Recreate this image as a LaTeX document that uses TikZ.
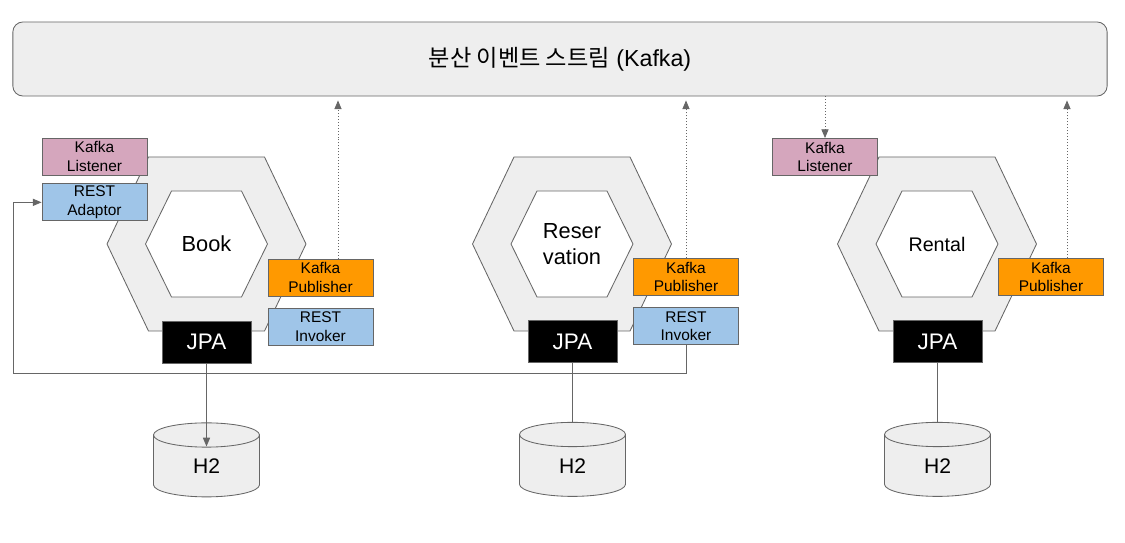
\documentclass[tikz,border=0pt]{standalone}
\usepackage{fontspec}
\setmainfont{Liberation Sans}
\newfontfamily\krfont{Noto Sans CJK KR}
\usetikzlibrary{arrows.meta, positioning, calc, shapes.geometric}
\definecolor{linegray}{HTML}{666666}
\definecolor{hexgray}{HTML}{EEEEEE}
\definecolor{lispink}{HTML}{D5A6BD}
\definecolor{restblue}{HTML}{9FC5E8}
\definecolor{puborange}{HTML}{FF9900}

\begin{document}
\begin{tikzpicture}[x=0.025cm, y=-0.025cm, line width=0.6pt,
  port/.style={rectangle, draw=linegray, minimum width=2.625cm, minimum height=0.925cm, inner sep=0pt, align=center, font=\fontsize{11}{13.2}\selectfont},
  jpa/.style={rectangle, draw=linegray, fill=black, text=white, minimum width=2.225cm, minimum height=1.05cm, font=\fontsize{16}{18}\selectfont},
  db/.style={cylinder, shape border rotate=90, aspect=0.9, draw=linegray, fill=hexgray, minimum width=2.65cm, minimum height=1.85cm, inner sep=0pt, font=\fontsize{15}{18}\selectfont},
  outerhex/.style={draw=linegray, fill=hexgray},
  innerhex/.style={draw=linegray, fill=white},
  svc/.style={align=center, font=\fontsize{15.5}{19}\selectfont},
  arr/.style={draw=linegray, -{Triangle[length=2.2mm, width=1.8mm]}},
  evt/.style={arr, dash pattern=on 0.7pt off 1.4pt}]
\useasboundingbox (0,0) rectangle (1125,543);

\node[rectangle, rounded corners=0.25cm, draw=linegray, fill=hexgray, minimum width=27.35cm, minimum height=1.85cm, font=\fontsize{16.5}{19}\selectfont] (bus) at (560,59) {{\krfont 분산 이벤트 스트림} (Kafka)};

% services
\coordinate (book) at (206.5,244);
\coordinate (res) at (572,244);
\coordinate (rental) at (937,244);
\foreach \s in {book,res,rental}{
  \draw[outerhex] ($(\s)+(-99.5,0)$) -- ++(41.5,-87) -- ++(116,0) -- ++(41.5,87) -- ++(-41.5,87) -- ++(-116,0) -- cycle;
  \draw[innerhex] ($(\s)+(-61,0)$) -- ++(26,-53) -- ++(70,0) -- ++(26,53) -- ++(-26,53) -- ++(-70,0) -- cycle;
}
\node[svc] (booktxt) at (book) {Book};
\node[svc] (restxt) at (res) {Reser\\vation};
\node[svc, font=\fontsize{14}{17}\selectfont] (rentaltxt) at (rental) {Rental};

% Book
\node[port, fill=lispink] (booklis) at (94.5,156.5) {Kafka\\Listener};
\node[port, fill=restblue, below=0.2cm of booklis] (bookada) {REST\\Adaptor};
\node[port, fill=puborange] (bookpub) at (320.5,277.5) {Kafka\\Publisher};
\node[port, fill=restblue, below=0.28cm of bookpub] (bookinv) {REST\\Invoker};
\node[jpa] (bookjpa) at (206.5,342) {JPA};
\node[db, below=1.475cm of bookjpa] (bookdb) {H2};

% Reservation
\node[port, fill=puborange] (respub) at (686,277) {Kafka\\Publisher};
\node[port, fill=restblue, below=0.28cm of respub] (resinv) {REST\\Invoker};
\node[jpa] (resjpa) at (572.5,341.5) {JPA};
\node[db, below=1.475cm of resjpa] (resdb) {H2};

% Rental
\node[port, fill=lispink] (rentallis) at (825,157) {Kafka\\Listener};
\node[port, fill=puborange] (rentalpub) at (1051,277) {Kafka\\Publisher};
\node[jpa] (rentaljpa) at (937.5,341.5) {JPA};
\node[db, below=1.475cm of rentaljpa] (rentaldb) {H2};

% connectors
\coordinate (loop) at (13,373);
\draw[arr] (resinv.south) |- (loop) |- (bookada.west);
\draw[arr] (bookjpa) -- ($(bookdb.north)+(0,24)$);
\draw[linegray] (resjpa) -- (resdb.north);
\draw[linegray] (rentaljpa) -- (rentaldb.north);

\coordinate (bp) at ($(bookpub.north)+(17.5,0)$);
\coordinate (rp) at ($(rentalpub.north)+(16,0)$);
\draw[evt] (bp) -- ($(bp |- bus.south)+(0,4)$);
\draw[evt] (respub.north) -- ($(respub.north |- bus.south)+(0,4)$);
\draw[evt] (rp) -- ($(rp |- bus.south)+(0,4)$);
\draw[evt] (rentallis.north |- bus.south) -- (rentallis.north);
\end{tikzpicture}
\end{document}
